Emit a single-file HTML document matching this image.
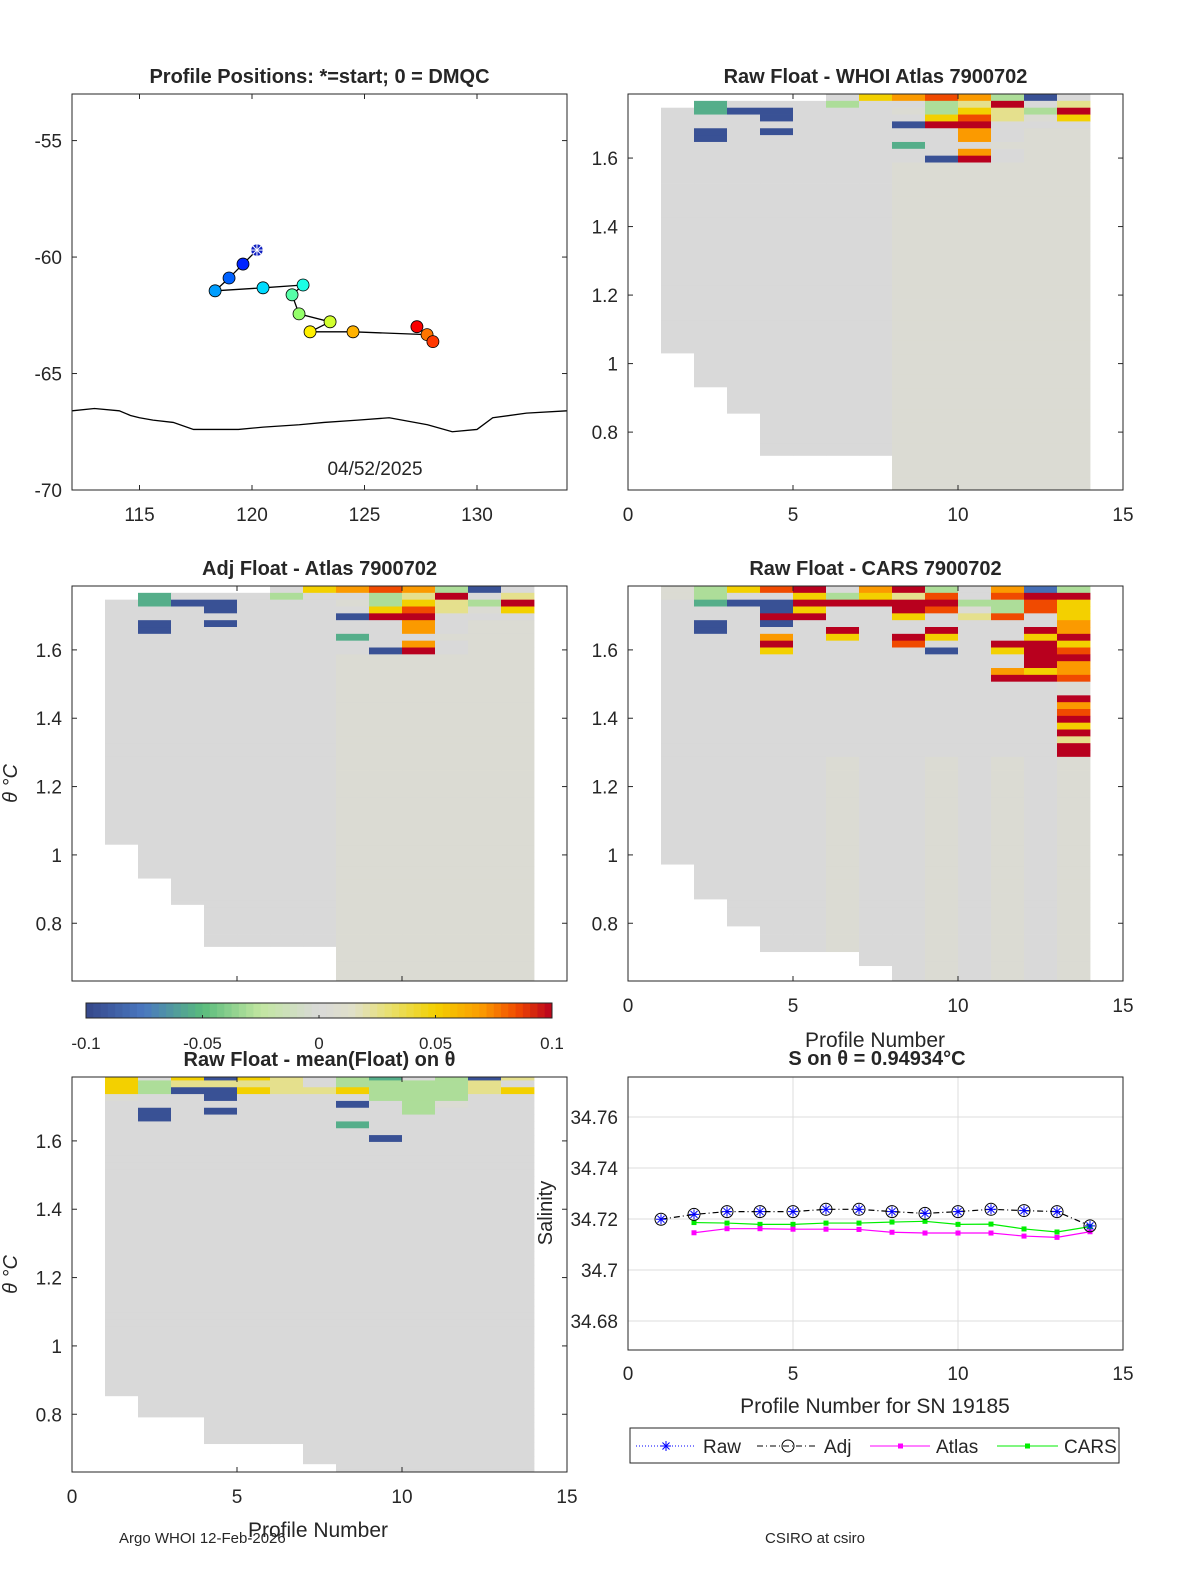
<!DOCTYPE html>
<html><head><meta charset="utf-8">
<style>
html,body{margin:0;padding:0;background:#fff;overflow:hidden;width:1200px;height:1575px;}
svg{display:block;}
svg text{font-family:"Liberation Sans",sans-serif;fill:#262626;}
</style></head>
<body>
<svg id="fig" width="1200" height="1575" viewBox="0 0 1200 1575" xmlns="http://www.w3.org/2000/svg">
<rect width="1200" height="1575" fill="#fff"/>
<g id="layer"></g>
</svg>
<script>
// ---------- data ----------
const trackLon=[120.22,119.6,118.98,118.36,120.49,122.27,121.78,122.09,123.47,122.58,124.49,127.78,128.04,127.33];
const trackLat=[-59.70,-60.30,-60.90,-61.45,-61.32,-61.20,-61.62,-62.44,-62.78,-63.21,-63.21,-63.33,-63.63,-62.99];
const coastLon=[112,113,114.1,114.6,115,115.6,116.5,117.4,119.4,120.5,122.1,123.2,124.7,126.1,127.8,128.9,130,130.7,132.2,134];
const coastLat=[-66.6,-66.5,-66.6,-66.8,-66.9,-67,-67.1,-67.4,-67.4,-67.3,-67.2,-67.1,-67.0,-66.9,-67.2,-67.5,-67.4,-66.9,-66.7,-66.6];
const profiles=[1,2,3,4,5,6,7,8,9,10,11,12,13,14];
const rawSal=[34.7199,34.7218,34.7229,34.7229,34.7229,34.7238,34.7238,34.7229,34.7222,34.7229,34.7238,34.7233,34.7229,34.7173];
const adjSal=[34.7199,34.7218,34.7229,34.7229,34.7229,34.7238,34.7238,34.7229,34.7222,34.7229,34.7238,34.7233,34.7229,34.7173];
const atlasSal=[null,34.7146,34.7162,34.7162,34.716,34.716,34.7159,34.7148,34.7145,34.7145,34.7145,34.7133,34.7128,34.715];
const carsSal=[null,34.7186,34.7184,34.7179,34.7179,34.7184,34.7184,34.7188,34.7191,34.7179,34.718,34.7161,34.7149,34.717];
const salTicks=[34.68,34.70,34.72,34.74,34.76];
const salTickLabels=["34.68","34.7","34.72","34.74","34.76"];
const thetaTicks=[0.8,1.0,1.2,1.4,1.6];
const thetaTickLabels=["0.8","1","1.2","1.4","1.6"];
const profTicks=[0,5,10,15];
const cbTicks=[-0.1,-0.05,0,0.05,0.1];
const cbTickLabels=["-0.1","-0.05","0","0.05","0.1"];
const codeVal={'.':null,'B':-0.095,'b':-0.08,'G':-0.055,'g':-0.03,'0':0,'p':0.005,'y':0.025,'Y':0.05,'O':0.07,'o':0.085,'R':0.1};
const atlasRows=[".....0YOoOgB0",".G000g00gyR0y","0GBB000pgYygR","000B0000YoypY","0000000BRR000","0B0B00000O0pp","0B0000000O0pp","0000000G00ppp","000000000O0pp","00000000BR0pp"];
const atlasBase="0000000pppppp";
const atlasBottoms=[1.031,0.932,0.855,0.732,0.732,0.732,0.732,0.6,0.6,0.6,0.6,0.6,0.6];
const carsRows=["pgYoR0ORg0Obg","pg00YgYyo0oRR","0GBBRRRRRggoY","000BY00RopgoY","000RR00Y0yo0Y","0B0B00000000O","0B000R00R00RO","000O0Y0RY00YR","000R000o00RRY","000Y0000B0YRo","00000000000RR","00000000000RO","0000000000OYO","0000000000RRo","000000000000p","000000000000p","000000000000R","000000000000O","000000000000o","000000000000R","000000000000Y","000000000000R","000000000000y","000000000000R","000000000000R"];
const carsBase="00000p00p0p0p";
const carsBottoms=[0.973,0.871,0.792,0.717,0.717,0.717,0.676,0.6,0.6,0.6,0.6,0.6,0.6];
const meanRows=["Y0YBYy0gG0gBy","Ygyyyy0ggggy0","YgBBYyyYgggyY","p00B0000ggg00","0000000B0gp00","0B0B00000g000","0B00000000000","0000000G00000","0000000000000","00000000B0000"];
const meanBase="0000000000000";
const meanBottoms=[0.854,0.792,0.792,0.714,0.714,0.714,0.655,0.6,0.6,0.6,0.6,0.6,0.6];

// ---------- helpers ----------
const NS="http://www.w3.org/2000/svg";
const L=document.getElementById('layer');
function el(tag,attrs,parent){const e=document.createElementNS(NS,tag);for(const k in attrs)e.setAttribute(k,attrs[k]);(parent||L).appendChild(e);return e;}
function txt(s,x,y,size,anchor,weight,name,parent){const t=el('text',{x:x,y:y,'font-size':size,'text-anchor':anchor||'middle','font-weight':weight||'normal'},parent);t.textContent=s;


return t;}
const stops=[[-0.1,[53,71,138]],[-0.075,[74,120,192]],[-0.05,[88,187,124]],[-0.025,[194,230,160]],[0,[217,217,217]],[0.015,[224,224,200]],[0.03,[232,224,112]],[0.05,[243,208,0]],[0.07,[251,154,0]],[0.085,[240,74,0]],[0.1,[184,0,30]]];
function cmap(v){v=Math.max(-0.1,Math.min(0.1,v));for(let i=0;i<stops.length-1;i++){const a=stops[i],b=stops[i+1];if(v<=b[0]){const t=(v-a[0])/(b[0]-a[0]);const c=a[1].map((x,j)=>Math.round(x+(b[1][j]-x)*t));return `rgb(${c})`;}}return 'rgb(184,0,30)';}

function heatPanel(name,x0,y0,w,h,rows,base,bottoms,topTheta,title,showYLabel,showXLabels){
  const g=el('g',{});
  
  
  const tMin=0.631,tMax=1.787;
  const xs=p=>x0+p/15*w, ys=t=>y0+(tMax-t)/(tMax-tMin)*h;
  const cp=el('clipPath',{id:'cp-'+name},g);el('rect',{x:x0,y:y0,width:w,height:h},cp);
  const cg=el('g',{'clip-path':`url(#cp-${name})`},g);
  const dT=0.02;const nRows=Math.ceil((topTheta-0.6)/dT);
  for(let c=0;c<13;c++){
    for(let r=0;r<nRows;r++){
      const code=(r<rows.length?rows[r]:base)[c];
      const v=codeVal[code];if(v===null||v===undefined)continue;
      const tTop=topTheta-r*dT;let tBot=tTop-dT;
      if(tTop<=bottoms[c])break;
      if(tBot<bottoms[c])tBot=bottoms[c];
      const rc=el('rect',{x:xs(c+1),y:ys(tTop),width:xs(c+2)-xs(c+1)+0.4,height:ys(tBot)-ys(tTop)+0.4,fill:cmap(v)},cg);
      
      
    }
  }
  el('rect',{x:x0,y:y0,width:w,height:h,fill:'none',stroke:'#262626','stroke-width':1},g);
  profTicks.forEach(p=>{el('line',{x1:xs(p),x2:xs(p),y1:y0+h,y2:y0+h-5,stroke:'#262626'},g);el('line',{x1:xs(p),x2:xs(p),y1:y0,y2:y0+5,stroke:'#262626'},g);if(showXLabels)txt(String(p),xs(p),y0+h+31,19,'middle','normal','x-tick-label',g);});
  thetaTicks.forEach((t,i)=>{el('line',{x1:x0,x2:x0+5,y1:ys(t),y2:ys(t),stroke:'#262626'},g);el('line',{x1:x0+w,x2:x0+w-5,y1:ys(t),y2:ys(t),stroke:'#262626'},g);txt(thetaTickLabels[i],x0-10,ys(t)+7,19,'end','normal','y-tick-label',g);});
  txt(title,x0+w/2,y0-11,20,'middle','bold','panel-title',g);
  if(showYLabel){const t=txt('θ °C',0,0,20,'middle','normal','y-axis-title',g);t.setAttribute('transform',`translate(${x0-55},${y0+h/2}) rotate(-90)`);t.setAttribute('font-style','italic');}
  return g;
}

// ---------- map panel ----------
(function(){
  const x0=72,y0=94,w=495,h=396;
  const g=el('g',{});
  
  
  const xs=lon=>x0+(lon-112)/22*w, ys=lat=>y0+(-53-lat)/17*h;
  el('polyline',{points:coastLon.map((l,i)=>xs(l)+','+ys(coastLat[i])).join(' '),fill:'none',stroke:'#000','stroke-width':1.3},g);
  el('polyline',{points:trackLon.map((l,i)=>xs(l)+','+ys(trackLat[i])).join(' '),fill:'none',stroke:'#000','stroke-width':1.3},g);
  function jet(t){const r=Math.min(1,Math.max(0,1.5-Math.abs(4*t-3))),gg=Math.min(1,Math.max(0,1.5-Math.abs(4*t-2))),b=Math.min(1,Math.max(0,1.5-Math.abs(4*t-1)));return `rgb(${Math.round(r*255)},${Math.round(gg*255)},${Math.round(b*255)})`;}
  trackLon.forEach((l,i)=>{
    if(i===0){const cx=xs(l),cy=ys(trackLat[i]);const s=el('circle',{cx:cx,cy:cy,r:6,fill:'#1020c0',stroke:'#fff','stroke-width':0.5},g);
      
      
      for(let a=0;a<4;a++){const an=a*Math.PI/4;el('line',{x1:cx-6*Math.cos(an),y1:cy-6*Math.sin(an),x2:cx+6*Math.cos(an),y2:cy+6*Math.sin(an),stroke:'#fff','stroke-width':1},g);}
      return;}
    const c=el('circle',{cx:xs(l),cy:ys(trackLat[i]),r:6,fill:jet(0.1+0.78*i/(trackLon.length-1)),stroke:'#000','stroke-width':0.8},g);
    
    
  });
  el('rect',{x:x0,y:y0,width:w,height:h,fill:'none',stroke:'#262626'},g);
  [115,120,125,130].forEach(v=>{el('line',{x1:xs(v),x2:xs(v),y1:y0+h,y2:y0+h-5,stroke:'#262626'},g);el('line',{x1:xs(v),x2:xs(v),y1:y0,y2:y0+5,stroke:'#262626'},g);txt(String(v),xs(v),y0+h+31,19,'middle','normal','x-tick-label',g);});
  [-55,-60,-65,-70].forEach(v=>{el('line',{x1:x0,x2:x0+5,y1:ys(v),y2:ys(v),stroke:'#262626'},g);el('line',{x1:x0+w,x2:x0+w-5,y1:ys(v),y2:ys(v),stroke:'#262626'},g);txt(String(v),x0-10,ys(v)+7,19,'end','normal','y-tick-label',g);});
  txt('Profile Positions: *=start; 0 = DMQC',x0+w/2,y0-11,20,'middle','bold','map-title',g);
  txt('04/52/2025',375,475,19,'middle','normal','date-label',g);
})();

heatPanel('raw-whoi-atlas-panel',628,94,495,396,atlasRows,atlasBase,atlasBottoms,1.787,'Raw Float - WHOI Atlas  7900702',false,true);
heatPanel('adj-atlas-panel',72,586,495,395,atlasRows,atlasBase,atlasBottoms,1.787,'Adj Float - Atlas  7900702',true,false);
heatPanel('raw-cars-panel',628,586,495,395,carsRows,carsBase,carsBottoms,1.787,'Raw Float - CARS  7900702',false,true);
heatPanel('raw-mean-panel',72,1077,495,395,meanRows,meanBase,meanBottoms,1.797,'Raw Float - mean(Float) on θ',true,true);

// colorbar
(function(){
  const x0=86,y0=1003,w=466,h=15;const g=el('g',{});
  
  
  const n=64;for(let i=0;i<n;i++){el('rect',{x:x0+i*w/n,y:y0,width:w/n+0.5,height:h,fill:cmap(-0.1+(i+0.5)/n*0.2)},g);}
  el('rect',{x:x0,y:y0,width:w,height:h,fill:'none',stroke:'#262626'},g);
  cbTicks.forEach((v,i)=>{const x=x0+(v+0.1)/0.2*w;el('line',{x1:x,x2:x,y1:y0+h,y2:y0+h-3,stroke:'#262626'},g);txt(cbTickLabels[i],x,y0+h+31,17,'middle','normal','colorbar-tick-label',g);});
})();

txt('Profile Number',875,1047,21,'middle','normal','x-axis-title');
txt('Profile Number',318,1537,21,'middle','normal','x-axis-title');

// salinity line chart
(function(){
  const x0=628,y0=1077,w=495,h=273;const g=el('g',{});
  
  
  const xs=p=>x0+p/15*w, ys=s=>1219-(s-34.72)*2550;
  profTicks.forEach(p=>{el('line',{x1:xs(p),x2:xs(p),y1:y0,y2:y0+h,stroke:'#dcdcdc'},g);});
  salTicks.forEach(s=>{el('line',{x1:x0,x2:x0+w,y1:ys(s),y2:ys(s),stroke:'#dcdcdc'},g);});
  el('rect',{x:x0,y:y0,width:w,height:h,fill:'none',stroke:'#262626'},g);
  profTicks.forEach(p=>{txt(String(p),xs(p),y0+h+30,19,'middle','normal','x-tick-label',g);});
  salTicks.forEach((s,i)=>{txt(salTickLabels[i],x0-10,ys(s)+7,19,'end','normal','y-tick-label',g);});
  function series(vals,color,dash,name){const pts=[];vals.forEach((v,i)=>{if(v!==null)pts.push(xs(profiles[i])+','+ys(v));});
    const pl=el('polyline',{points:pts.join(' '),fill:'none',stroke:color,'stroke-width':1.2,'stroke-dasharray':dash||'none'},g);
    
    }
  series(carsSal,'#00ee00','', 'cars-line');
  series(atlasSal,'#ff00ff','', 'atlas-line');
  series(adjSal,'#000','6,3,1,3','adj-line');
  carsSal.forEach((v,i)=>{if(v!==null){const r=el('rect',{x:xs(profiles[i])-2.5,y:ys(v)-2.5,width:5,height:5,fill:'#00ee00'},g);}});
  atlasSal.forEach((v,i)=>{if(v!==null){const r=el('rect',{x:xs(profiles[i])-2.5,y:ys(v)-2.5,width:5,height:5,fill:'#ff00ff'},g);}});
  adjSal.forEach((v,i)=>{const cx=xs(profiles[i]),cy=ys(v);const c=el('circle',{cx:cx,cy:cy,r:6,fill:'none',stroke:'#000'},g);
    
    });
  rawSal.forEach((v,i)=>{const cx=xs(profiles[i]),cy=ys(v);
    for(let a=0;a<4;a++){const an=a*Math.PI/4;el('line',{x1:cx-5*Math.cos(an),y1:cy-5*Math.sin(an),x2:cx+5*Math.cos(an),y2:cy+5*Math.sin(an),stroke:'#0000ff','stroke-width':1},g);}});
  txt('S on θ = 0.94934°C',877,1065,20,'middle','bold','salinity-title',g);
  const yl=txt('Salinity',0,0,20,'middle','normal','y-axis-title',g);yl.setAttribute('transform','translate(552,1213) rotate(-90)');
  txt('Profile Number for SN 19185',875,1413,21,'middle','normal','x-axis-title',g);
  // legend
  const lg=el('g',{},g);
  
  
  el('rect',{x:630,y:1428,width:489,height:35,fill:'#fff',stroke:'#262626'},lg);
  const ly=1446;
  el('line',{x1:636,x2:696,y1:ly,y2:ly,stroke:'#0000ff','stroke-dasharray':'1,2'},lg);
  for(let a=0;a<4;a++){const an=a*Math.PI/4;el('line',{x1:666-5*Math.cos(an),y1:ly-5*Math.sin(an),x2:666+5*Math.cos(an),y2:ly+5*Math.sin(an),stroke:'#0000ff'},lg);}
  txt('Raw',703,ly+7,19,'start','normal','legend-raw',lg);
  el('line',{x1:757,x2:818,y1:ly,y2:ly,stroke:'#000','stroke-dasharray':'6,3,1,3'},lg);
  el('circle',{cx:788,cy:ly,r:6,fill:'none',stroke:'#000'},lg);
  txt('Adj',824,ly+7,19,'start','normal','legend-adj',lg);
  el('line',{x1:870,x2:930,y1:ly,y2:ly,stroke:'#ff00ff'},lg);
  el('rect',{x:898,y:ly-2.5,width:5,height:5,fill:'#ff00ff'},lg);
  txt('Atlas',936,ly+7,19,'start','normal','legend-atlas',lg);
  el('line',{x1:997,x2:1058,y1:ly,y2:ly,stroke:'#00ee00'},lg);
  el('rect',{x:1025,y:ly-2.5,width:5,height:5,fill:'#00ee00'},lg);
  txt('CARS',1064,ly+7,19,'start','normal','legend-cars',lg);
})();

txt('Argo WHOI 12-Feb-2026',119,1543,15,'start','normal','footer-left');
txt('CSIRO at csiro',765,1543,15,'start','normal','footer-right');
</script>
</body></html>
